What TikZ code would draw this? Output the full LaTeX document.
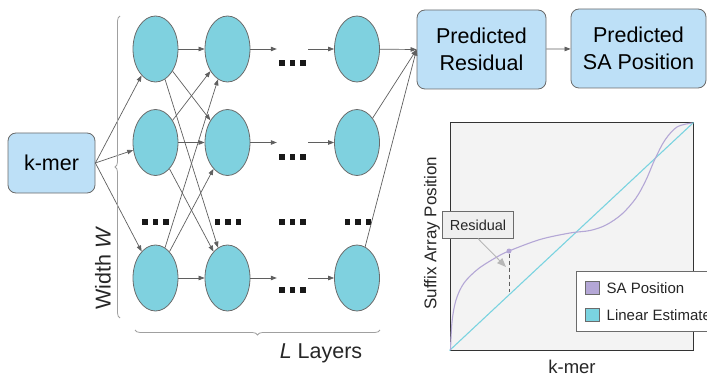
\documentclass[tikz,border=0pt]{standalone}
\usepackage{fontspec}
\setmainfont{Liberation Sans}
\usetikzlibrary{arrows.meta,decorations.pathreplacing,shapes.geometric}
\definecolor{nodecyan}{HTML}{7FD1DF}
\definecolor{boxblue}{HTML}{BDE0F7}
\definecolor{edgegray}{HTML}{5F5F5F}
\definecolor{bordergray}{HTML}{6B6B6B}
\definecolor{plotbg}{HTML}{F3F3F3}
\definecolor{plotdark}{HTML}{333333}
\definecolor{linecyan}{HTML}{7AD3E0}
\definecolor{curvepurple}{HTML}{B4A7D6}
\definecolor{bracegray}{HTML}{A0A0A0}
\definecolor{lightarrow}{HTML}{B7B7B7}
\definecolor{labelbg}{HTML}{EFEFEF}
\newcommand\tripledot{\rule{5.5pt}{5.5pt}\hspace{5pt}\rule{5.5pt}{5.5pt}\hspace{5pt}\rule{5.5pt}{5.5pt}}
\begin{document}
\begin{tikzpicture}[x=1pt,y=-1pt,
  neuron/.style={ellipse, draw=bordergray, fill=nodecyan, minimum width=45pt, minimum height=66pt, inner sep=0pt, line width=0.8pt},
  box/.style={rectangle, rounded corners=8pt, draw=bordergray, fill=boxblue, line width=0.8pt, align=center, font=\fontsize{21.5}{26.5}\selectfont, inner sep=0pt},
  conn/.style={draw=edgegray, line width=0.7pt, -{Triangle[length=6pt,width=4.5pt]}},
  dotsnode/.style={inner sep=0pt, text=black!90},
  gap/.style={inner sep=0pt, minimum width=31pt, minimum height=1pt},
  bracestyle/.style={draw=bracegray, line width=0.8pt, decorate, decoration={brace, amplitude=5pt}},
  bigtext/.style={font=\fontsize{21.5}{26}\selectfont, text=black!85},
  legsq/.style={draw=bordergray, line width=0.6pt, minimum width=14pt, minimum height=13pt, inner sep=0pt},
  legtext/.style={font=\fontsize{15}{18}\selectfont, anchor=west, inner sep=0pt, text=black!85}
]
\useasboundingbox (0,0) rectangle (707,377);
\clip (0,0) rectangle (707,377);

% input box
\node[box, minimum width=87pt, minimum height=60pt] (kmer) at (51.5,163) {k-mer};

% neurons
\foreach \c/\x in {1/155.5, 2/227.5, 4/357} {
  \node[neuron] (n\c1) at (\x,49) {};
  \node[neuron] (n\c2) at (\x,142.5) {};
  \node[neuron] (n\c4) at (\x,278) {};
}

% gaps and dots in column 3
\node[gap] (g1) at (292.5,49) {};
\node[gap] (g2) at (292.5,142.5) {};
\node[gap] (g4) at (292.5,278) {};
\node[dotsnode] (d1) at (292.5,63) {\tripledot};
\node[dotsnode] (d2) at (292.5,157) {\tripledot};
\node[dotsnode] (d4) at (292.5,290) {\tripledot};
% row 3 dots
\node[dotsnode] (r31) at (155.5,222) {\tripledot};
\node[dotsnode] (r32) at (228,222) {\tripledot};
\node[dotsnode] (r33) at (292.5,222) {\tripledot};
\node[dotsnode] (r34) at (358,222) {\tripledot};

% output boxes
\node[box, minimum width=129pt, minimum height=79pt] (pr) at (481.5,49.5) {Predicted\\Residual};
\node[box, minimum width=135pt, minimum height=79pt] (psa) at (638.5,48.5) {Predicted\\SA Position};

% connections
\foreach \r in {1,2,4} {
  \draw[conn] (kmer.east) -- (n1\r);
  \foreach \s in {1,2,4} {
    \draw[conn] (n1\r) -- (n2\s);
  }
  \draw[conn] (n2\r) -- (g\r.west);
  \draw[conn] (g\r.east) -- (n4\r);
  \draw[conn] (n4\r) -- (pr.west);
}
\draw[conn] (pr) -- (psa);

% braces
\coordinate (lbtop) at (120,16);
\coordinate (lbbot) at (120,318);
\draw[bracestyle] (lbbot) -- (lbtop);
\coordinate (bbl) at (135,330);
\coordinate (bbr) at (380,330);
\draw[bracestyle] (bbr) -- (bbl);
\node[bigtext, rotate=90] (wlabel) at (103,268) {Width \textit{W}};
\node[bigtext] (llabel) at (321,353) {\textit{L} Layers};

% plot
\node[draw=plotdark, fill=plotbg, line width=1pt, minimum width=243pt, minimum height=227pt, inner sep=0pt] (frame) at (571.5,236.5) {};
\draw[linecyan, line width=1.1pt] (frame.south west) -- (frame.north east);
\draw[curvepurple, line width=1.1pt] plot[smooth, tension=0.55] coordinates {
  (450.5,350) (452,322) (456,300) (464,283) (478,269) (496,257.5) (509,251) (540,239.5) (570,233) (590,230.5) (606,225) (622,214) (636,198) (646,180) (655,159) (665,140) (677,127) (692,123)};
\node[circle, fill=curvepurple, inner sep=0pt, minimum size=5pt] (pt) at (509,251) {};
\coordinate (foot) at (509,292);
\draw[edgegray, line width=0.8pt, dash pattern=on 4pt off 3pt] (pt) -- (foot);

\node[draw=bordergray, fill=labelbg, line width=0.7pt, minimum width=70.5pt, minimum height=26.5pt, inner sep=0pt, font=\fontsize{14.5}{17}\selectfont, text=black!85] (res) at (478,225) {Residual};
\coordinate (restip) at (506,267);
\draw[draw=lightarrow, line width=0.9pt, -{Triangle[length=9pt,width=7pt]}] (res.south) -- (restip);

% legend
\draw[draw=bordergray, fill=white, line width=0.7pt] (576.5,271.5) rectangle (740,331);
\node[legsq, fill=curvepurple] (sqa) at (592,288) {};
\node[legsq, fill=linecyan] (sqb) at (592,315) {};
\node[legtext] (ta) at (606.5,288) {SA Position};
\node[legtext] (tb) at (606.5,315) {Linear Estimate};

% axis labels
\node[rotate=90, font=\fontsize{17}{20}\selectfont, text=black!85] (ylab) at (432,233) {Suffix Array Position};
\node[font=\fontsize{18.5}{22}\selectfont, text=black!85] (xlab) at (572,367) {k-mer};
\end{tikzpicture}
\end{document}
